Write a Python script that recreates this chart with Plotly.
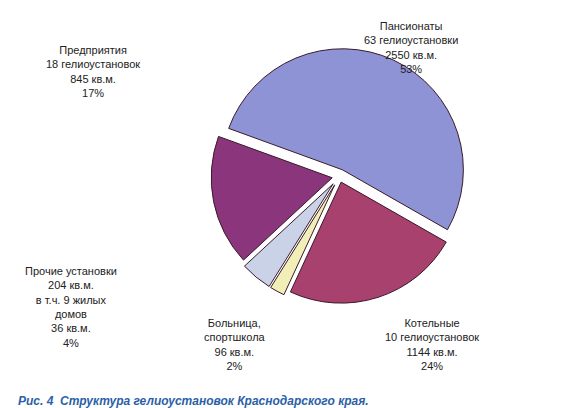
import plotly.graph_objects as go

labels = ["Пансионаты", "Котельные", "Больница, спортшкола", "Прочие установки", "Предприятия"]
values = [2550, 1144, 96, 204, 845]
colors = ["#8e93d6", "#a8416e", "#f2eeb8", "#c9d2e6", "#8a357c"]
pulls = [0.06, 0.05, 0.08, 0.08, 0.06]

texts = [
    ("Пансионаты<br>63 гелиоустановки<br>2550 кв.м.<br>53%", 0.72, 0.99),
    ("Котельные<br>10 гелиоустановок<br>1144 кв.м.<br>24%", 0.76, 0.24),
    ("Больница,<br>спортшкола<br>96 кв.м.<br>2%", 0.40, 0.24),
    ("Прочие установки<br>204 кв.м.<br>в т.ч. 9 жилых<br>домов<br>36 кв.м.<br>4%", 0.10, 0.37),
    ("Предприятия<br>18 гелиоустановок<br>845 кв.м.<br>17%", 0.14, 0.93),
]

fig = go.Figure(go.Pie(
    labels=labels, values=values, sort=False, direction="clockwise",
    rotation=-70, pull=pulls, textinfo="none", hoverinfo="label+value+percent",
    marker=dict(colors=colors, line=dict(color="#3a1a2a", width=1)),
    domain=dict(x=[0.2, 0.98], y=[0.26, 0.92]), showlegend=False,
))
for t, x, y in texts:
    fig.add_annotation(text=t, x=x, y=y, xref="paper", yref="paper", showarrow=False,
                       xanchor="center", yanchor="top", font=dict(size=11, color="#222"))
fig.add_annotation(text="<i><b>Рис. 4  Структура гелиоустановок Краснодарского края.</b></i>",
                   x=0.0, y=0.0, xref="paper", yref="paper", showarrow=False,
                   xanchor="left", yanchor="bottom", font=dict(size=12, color="#2b5fa8"))
fig.update_layout(width=564, height=408, margin=dict(l=8, r=8, t=6, b=6),
                  paper_bgcolor="white", font=dict(family="Liberation Sans"))
fig.write_html("out.html")
